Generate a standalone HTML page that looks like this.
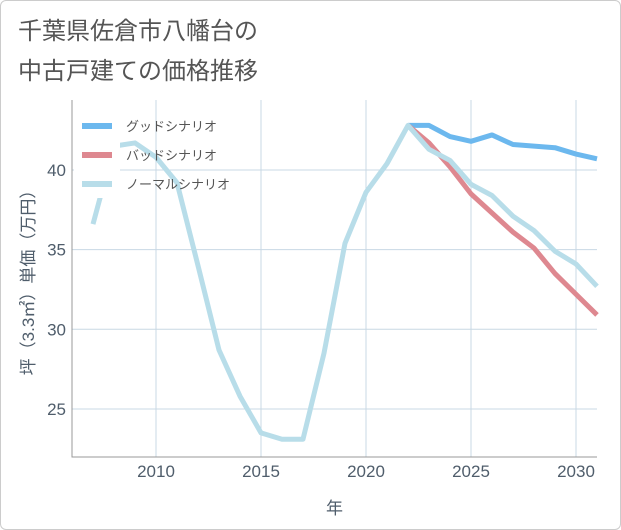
<!DOCTYPE html>
<html><head><meta charset="utf-8"><style>
body{margin:0;background:#fff;}
#wrap{position:relative;width:619px;height:528px;border:1px solid #ccc;border-radius:6px;overflow:hidden;background:#fff;font-family:"Liberation Sans","Noto Sans CJK JP",sans-serif;}
#title{position:absolute;left:17px;top:11px;font-size:24px;line-height:40px;color:#555;}
svg text{font-family:"Liberation Sans","Noto Sans CJK JP",sans-serif;}
</style></head><body>
<div id="wrap">
<div id="title">千葉県佐倉市八幡台の<br>中古戸建ての価格推移</div>
<svg id="chart" width="621" height="530" style="position:absolute;left:-1px;top:-1px"></svg>
</div>
<script>
const years=[2007,2008,2009,2010,2011,2012,2013,2014,2015,2016,2017,2018,2019,2020,2021,2022,2023,2024,2025,2026,2027,2028,2029,2030,2031];
const normalVals=[36.6,41.5,41.7,40.8,39.2,34.0,28.7,25.8,23.5,23.1,23.1,28.5,35.4,38.6,40.4,42.8,41.3,40.6,39.1,38.4,37.1,36.2,34.9,34.1,32.7];
const futureYears=[2022,2023,2024,2025,2026,2027,2028,2029,2030,2031];
const goodVals=[42.8,42.8,42.1,41.8,42.2,41.6,41.5,41.4,41.0,40.7];
const badVals=[42.8,41.7,40.2,38.5,37.3,36.1,35.1,33.5,32.2,30.9];
const xTicks=[2010,2015,2020,2025,2030];
const yTicks=[25,30,35,40];
const L=72,R=597,T=100,B=457;
const x=v=>L+(v-2006)*(R-L)/25;
const y=v=>170-(v-40)*15.93;
const svg=document.getElementById('chart');
const NS='http://www.w3.org/2000/svg';
function mk(t,a){const e=document.createElementNS(NS,t);for(const k in a)e.setAttribute(k,a[k]);svg.appendChild(e);return e;}
xTicks.forEach(v=>{const l=mk('line',{x1:x(v),x2:x(v),y1:T,y2:B,stroke:'#c8d8e4','stroke-width':1});

const t=mk('text',{x:x(v),y:B+20,'text-anchor':'middle','font-size':17,fill:'#4f5d6b'});t.textContent=v;
});
yTicks.forEach(v=>{const l=mk('line',{x1:L,x2:R,y1:y(v),y2:y(v),stroke:'#c8d8e4','stroke-width':1});

const t=mk('text',{x:L-6,y:y(v)+6,'text-anchor':'end','font-size':17,fill:'#4f5d6b'});t.textContent=v;
});
const ax=mk('path',{d:`M${L},${T}V${B}H${R}`,fill:'none',stroke:'#999','stroke-width':1});

const lg=mk('rect',{x:74,y:110,width:46,height:88,fill:'#fff'});

function series(xs,vs,color,name){const p=mk('polyline',{points:xs.map((a,i)=>x(a)+','+y(vs[i])).join(' '),fill:'none',stroke:color,'stroke-width':5,'stroke-linejoin':'round'});
}
series(futureYears,goodVals,'#6cb8ee','good-scenario-line');
series(futureYears,badVals,'#de8890','bad-scenario-line');
series(years,normalVals,'#b8dde9','normal-scenario-line');
const lg2=mk('rect',{x:74,y:110,width:46,height:88,fill:'#fff'});

[['グッドシナリオ','#6cb8ee'],['バッドシナリオ','#de8890'],['ノーマルシナリオ','#b8dde9']].forEach((d,i)=>{
const yy=126+i*29;
const l=mk('line',{x1:82,x2:112,y1:yy,y2:yy,stroke:d[1],'stroke-width':6});

const t=mk('text',{x:126,y:yy+5,'font-size':13,fill:'#555'});t.textContent=d[0];
});
const xt=mk('text',{x:(L+R)/2,y:514,'text-anchor':'middle','font-size':17,fill:'#4f5d6b'});xt.textContent='年';

const yt=mk('text',{x:0,y:0,'text-anchor':'middle','font-size':17,fill:'#4f5d6b',transform:`translate(34,${(T+B)/2}) rotate(-90)`});yt.textContent='坪（3.3㎡）単価（万円）';

</script>
</body></html>
